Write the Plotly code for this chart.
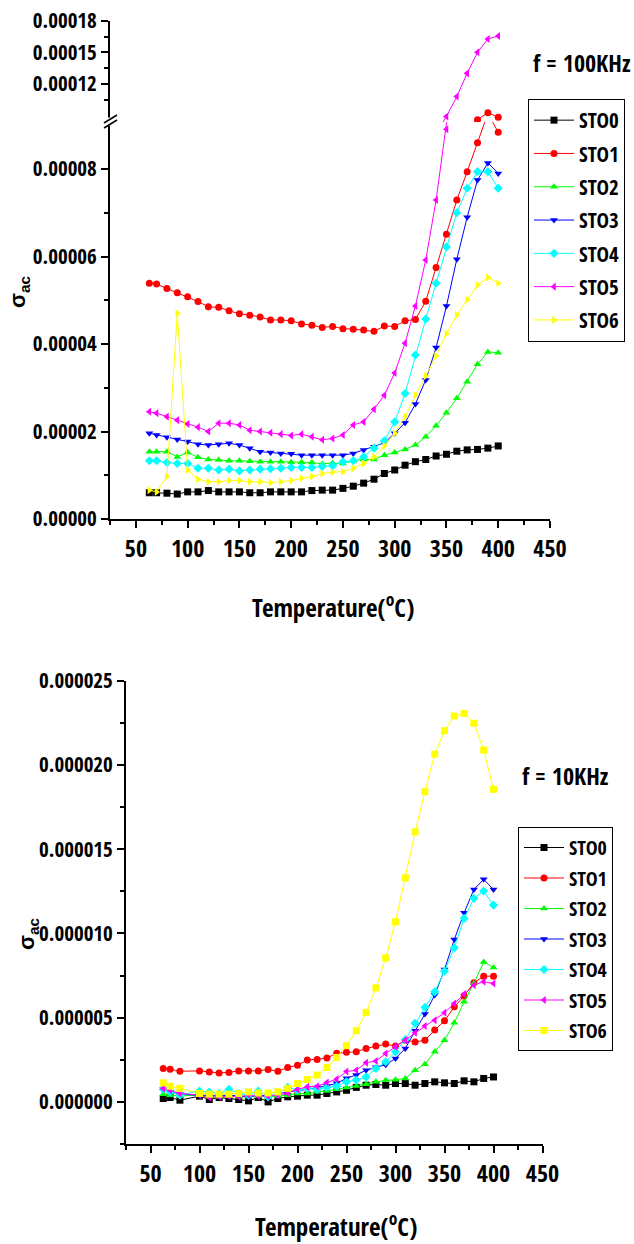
import plotly.graph_objects as go

# ---------------- data ----------------
names = ["STO0", "STO1", "STO2", "STO3", "STO4", "STO5", "STO6"]
colors = ["#000000", "#ff0000", "#00ff00", "#0000ff", "#00ffff", "#ff00ff", "#ffff00"]
symbols_100k = ["square", "circle", "triangle-up", "triangle-down", "diamond", "triangle-left", "triangle-right"]
symbols_10k = ["square", "circle", "triangle-up", "triangle-down", "diamond", "triangle-left", "square"]

# f = 100 kHz
temp_100k = [63, 70, 80, 90, 100, 110, 120, 130, 140, 150, 160, 170, 180, 190, 200, 210, 220, 230,
             240, 250, 260, 270, 280, 290, 300, 310, 320, 330, 340, 350, 360, 370, 380, 390, 400]
sto0_100k = [6.0, 6.0, 5.9, 5.7, 6.2, 6.2, 6.5, 6.2, 6.2, 6.2, 6.0, 6.0, 6.2, 6.2, 6.2, 6.2, 6.5, 6.6,
             6.6, 7.0, 7.5, 8.2, 9.1, 10.4, 11.2, 12.3, 13.1, 13.6, 14.4, 14.8, 15.5, 15.8, 15.9, 16.2, 16.7]
sto1_100k = [53.9, 53.7, 52.7, 51.7, 50.8, 49.7, 48.5, 48.4, 47.6, 46.9, 46.6, 46.2, 45.5, 45.5, 45.3, 44.6,
             44.3, 43.8, 44.0, 43.5, 43.4, 43.2, 42.9, 44.1, 44.0, 45.3, 45.6, 49.8, 57.5, 65.1, 72.9, 79.4,
             86.0, 92.7, 88.4]
sto2_100k = [15.4, 15.4, 15.4, 14.2, 15.2, 14.1, 13.6, 13.5, 13.3, 13.3, 13.2, 13.1, 13.1, 13.1, 13.0, 13.0,
             12.9, 12.6, 12.8, 12.7, 13.3, 13.6, 13.6, 14.6, 15.2, 15.9, 16.9, 18.8, 21.3, 24.3, 27.6, 31.4,
             35.4, 38.2, 38.0]
sto3_100k = [19.6, 19.2, 18.7, 18.2, 17.7, 17.1, 16.9, 17.1, 17.3, 16.9, 16.2, 15.4, 15.2, 15.0, 14.9, 14.6,
             14.6, 14.6, 14.6, 14.6, 15.0, 15.8, 16.5, 17.4, 19.6, 22.0, 26.3, 31.8, 39.2, 48.7, 59.4, 69.0,
             77.5, 81.4, 79.0]
sto4_100k = [13.3, 13.3, 12.9, 12.7, 12.7, 11.6, 11.6, 11.2, 11.4, 11.0, 11.2, 11.4, 11.5, 11.6, 11.8, 11.8,
             11.8, 12.0, 12.2, 13.1, 13.3, 14.2, 16.2, 17.9, 22.2, 28.7, 37.5, 45.7, 53.9, 62.2, 70.0, 75.6,
             79.4, 79.4, 75.6]
sto5_100k = [24.5, 24.2, 23.4, 22.6, 21.7, 21.0, 20.0, 21.9, 21.9, 21.5, 20.3, 20.0, 19.7, 19.4, 19.1, 19.4,
             18.8, 18.1, 18.4, 19.2, 21.5, 22.2, 25.1, 28.3, 33.4, 40.2, 48.7, 59.2, 72.9, 89.1, 108.0, 130.0,
             150.0, 162.6, 165.5]
sto6_100k = [6.6, 6.2, 9.7, 47.0, 11.2, 9.1, 8.5, 8.5, 8.8, 8.8, 8.5, 8.5, 8.3, 8.5, 8.8, 9.3, 9.7, 10.4,
             10.7, 10.8, 11.6, 12.7, 14.2, 16.7, 19.6, 23.4, 28.3, 32.7, 37.3, 42.4, 46.6, 50.1, 53.5, 55.2, 53.9]

# f = 10 kHz
temp_10k = [63, 70, 80, 100, 110, 120, 130, 140, 150, 160, 170, 180, 190, 200, 210, 220, 230, 240,
            250, 260, 270, 280, 290, 300, 310, 320, 330, 340, 350, 360, 370, 380, 390, 400]
sto0_10k = [0.20, 0.26, 0.10, 0.34, 0.14, 0.26, 0.20, 0.14, 0.06, 0.26, 0.0, 0.20, 0.30, 0.34, 0.40, 0.40,
            0.50, 0.59, 0.69, 0.86, 0.99, 1.03, 0.99, 1.09, 1.09, 0.99, 1.09, 1.19, 1.13, 1.09, 1.25, 1.19,
            1.39, 1.48]
sto1_10k = [1.98, 1.94, 1.82, 1.84, 1.78, 1.72, 1.75, 1.84, 1.84, 1.84, 1.92, 1.82, 2.04, 2.18, 2.48, 2.52,
            2.60, 2.89, 2.94, 2.97, 3.17, 3.31, 3.43, 3.31, 3.66, 3.56, 3.66, 4.26, 4.81, 5.64, 6.28, 7.07,
            7.46, 7.46]
sto2_10k = [0.45, 0.40, 0.35, 0.40, 0.30, 0.30, 0.35, 0.30, 0.30, 0.35, 0.30, 0.35, 0.40, 0.50, 0.50, 0.60,
            0.65, 0.75, 0.85, 0.95, 1.05, 1.19, 1.28, 1.31, 1.39, 1.88, 2.24, 2.97, 3.66, 4.69, 5.94, 7.03,
            8.31, 7.98]
sto3_10k = [0.75, 0.60, 0.45, 0.40, 0.35, 0.35, 0.40, 0.35, 0.30, 0.40, 0.35, 0.45, 0.60, 0.65, 0.75, 0.85,
            0.95, 1.10, 1.40, 1.60, 1.88, 2.05, 2.20, 2.58, 3.17, 4.22, 5.21, 6.34, 7.86, 9.64, 11.22, 12.61,
            13.21, 12.61]
sto4_10k = [0.74, 0.59, 0.40, 0.65, 0.59, 0.50, 0.74, 0.50, 0.40, 0.65, 0.30, 0.46, 0.86, 0.69, 0.80, 0.74,
            0.86, 0.93, 1.19, 1.30, 1.48, 1.98, 2.38, 2.97, 3.70, 4.66, 5.61, 6.53, 7.76, 9.15, 10.89, 12.08,
            12.51, 11.68]
sto5_10k = [0.80, 0.69, 0.50, 0.40, 0.26, 0.30, 0.34, 0.30, 0.40, 0.34, 0.34, 0.40, 0.53, 0.74, 0.89, 0.93,
            1.15, 1.35, 1.80, 1.88, 2.32, 2.43, 2.87, 3.27, 3.66, 4.10, 4.50, 4.85, 5.29, 5.84, 6.40, 6.93,
            7.13, 7.03]
sto6_10k = [1.13, 0.93, 0.80, 0.50, 0.46, 0.46, 0.46, 0.50, 0.59, 0.53, 0.53, 0.59, 0.80, 1.09, 1.33, 1.59,
            2.04, 2.64, 3.34, 4.22, 5.31, 6.77, 8.55, 10.69, 13.30, 16.03, 18.41, 20.63, 22.03, 22.90, 23.06,
            22.47, 20.88, 18.55]

series_100k = [sto0_100k, sto1_100k, sto2_100k, sto3_100k, sto4_100k, sto5_100k, sto6_100k]
series_10k = [sto0_10k, sto1_10k, sto2_10k, sto3_10k, sto4_10k, sto5_10k, sto6_10k]
SCALE = 1e-6  # values above are in units of 1e-6

x_ticks = [50, 100, 150, 200, 250, 300, 350, 400, 450]
x_minor = [25, 75, 125, 175, 225, 275, 325, 375, 425]
y_ticks_100k_low = [0, 0.00002, 0.00004, 0.00006, 0.00008]
y_minor_100k_low = [0.00001, 0.00003, 0.00005, 0.00007]
y_ticks_100k_high = [0.00012, 0.00015, 0.00018]
y_minor_100k_high = [0.000105, 0.000135, 0.000165]
y_ticks_10k = [0, 0.000005, 0.00001, 0.000015, 0.00002, 0.000025]
y_minor_10k = [-0.0000025, 0.0000025, 0.0000075, 0.0000125, 0.0000175, 0.0000225]

# ---------------- figure ----------------
W, H = 634, 1244
FONT = "Open Sans Condensed, Roboto Condensed, Liberation Sans Narrow, sans-serif"


def px(xp):
    return xp / W


def py(yp):
    return 1 - yp / H


fig = go.Figure()

for i in range(7):
    vals = [v * SCALE for v in series_100k[i]]
    common = dict(x=temp_100k, y=vals, mode="lines+markers", name=names[i],
                  line=dict(color=colors[i], width=1),
                  marker=dict(symbol=symbols_100k[i], size=7, color=colors[i]),
                  legendgroup="t%d" % i)
    fig.add_trace(go.Scatter(**common, xaxis="x", yaxis="y", legend="legend"))
    fig.add_trace(go.Scatter(**common, xaxis="x", yaxis="y2", showlegend=False))

for i in range(7):
    vals = [v * SCALE for v in series_10k[i]]
    fig.add_trace(go.Scatter(x=temp_10k, y=vals, mode="lines+markers", name=names[i],
                             line=dict(color=colors[i], width=1),
                             marker=dict(symbol=symbols_10k[i], size=7, color=colors[i]),
                             legendgroup="b%d" % i, xaxis="x2", yaxis="y3", legend="legend2"))

tickfont_y = dict(family=FONT, size=21, color="black", weight="bold")
tickfont_x = dict(family=FONT, size=24, color="black", weight="bold")
title_font = dict(family=FONT, size=25, color="black", weight="bold")
minor_common = dict(ticks="outside", ticklen=4, tickcolor="black", tickwidth=1.5)

axis_common = dict(showline=True, linecolor="black", linewidth=2, ticks="outside", ticklen=7,
                   tickwidth=1.5, tickcolor="black", showgrid=False, zeroline=False, mirror=False,
                   automargin=False)

# Top chart geometry (pixels)
top_x0, top_x1 = 110, 550
top_ybot, top_ybrk, top_ytop = 519, 122, 20.7
low_max = (top_ybot - top_ybrk) * (0.00002 / 87.5)
up_min = 0.00018 - (top_ybrk - top_ytop) * (0.00003 / 31.6)

bot_x0, bot_x1 = 126, 542.5
bot_ybot, bot_ytop = 1144, 680.7

fig.update_layout(
    width=W, height=H, margin=dict(l=0, r=0, t=0, b=0, autoexpand=False),
    paper_bgcolor="white", plot_bgcolor="rgba(0,0,0,0)",
    font=dict(family=FONT, color="black"),
    xaxis=dict(**axis_common, domain=[px(top_x0), px(top_x1)], range=[25, 450], anchor="y",
               tickmode="array", tickvals=x_ticks, tickfont=tickfont_x, ticklabelstandoff=0,
               minor=dict(tickmode="array", tickvals=x_minor, **minor_common)),
    yaxis=dict(**axis_common, domain=[py(top_ybot), py(top_ybrk)], range=[0, low_max], anchor="x",
               tickmode="array", tickvals=y_ticks_100k_low, tickformat=".5f", tickfont=tickfont_y,
               ticklabelstandoff=0,
               minor=dict(tickmode="array", tickvals=y_minor_100k_low, **minor_common)),
    yaxis2=dict(**axis_common, domain=[py(top_ybrk), py(top_ytop)], range=[up_min, 0.00018], anchor="x",
                tickmode="array", tickvals=y_ticks_100k_high, tickformat=".5f", tickfont=tickfont_y,
                ticklabelstandoff=0,
                minor=dict(tickmode="array", tickvals=y_minor_100k_high, **minor_common)),
    xaxis2=dict(**axis_common, domain=[px(bot_x0), px(bot_x1)], range=[25, 450], anchor="y3",
                tickmode="array", tickvals=x_ticks, tickfont=tickfont_x, ticklabelstandoff=0,
                minor=dict(tickmode="array", tickvals=x_minor, **minor_common)),
    yaxis3=dict(**axis_common, domain=[py(bot_ybot), py(bot_ytop)], range=[-0.0000025, 0.000025],
                anchor="x2", tickmode="array", tickvals=y_ticks_10k, tickformat=".6f", tickfont=tickfont_y,
                ticklabelstandoff=0,
                minor=dict(tickmode="array", tickvals=y_minor_10k, **minor_common)),
    legend=dict(x=px(528), y=py(99), xanchor="left", yanchor="top", bgcolor="white",
                bordercolor="black", borderwidth=1, traceorder="grouped", tracegroupgap=3,
                itemwidth=40, font=dict(family=FONT, size=21, weight="bold")),
    legend2=dict(x=px(518), y=py(827), xanchor="left", yanchor="top", bgcolor="white",
                 bordercolor="black", borderwidth=1, traceorder="grouped", tracegroupgap=1.5,
                 itemwidth=40, font=dict(family=FONT, size=20, weight="bold")),
)

ann = dict(xref="paper", yref="paper", showarrow=False, xanchor="center", yanchor="middle")

# axis titles and labels
fig.add_annotation(text="Temperature(<sup>o</sup>C)", x=px(333), y=py(605), font=title_font, **ann)
fig.add_annotation(text="Temperature(<sup>o</sup>C)", x=px(336), y=py(1224), font=title_font, **ann)
fig.add_annotation(text="f = 100KHz", x=px(582), y=py(62), font=dict(family=FONT, size=24, weight="bold"), **ann)
fig.add_annotation(text="f = 10KHz", x=px(565), y=py(775), font=dict(family=FONT, size=24, weight="bold"), **ann)
fig.add_annotation(text="σ<sub>ac</sub>", x=px(19), y=py(292), textangle=-90,
                   font=dict(family="Liberation Sans, Arial, sans-serif", size=22, weight="bold"), **ann)
fig.add_annotation(text="σ<sub>ac</sub>", x=px(28), y=py(934), textangle=-90,
                   font=dict(family="Liberation Sans, Arial, sans-serif", size=22, weight="bold"), **ann)

# axis break marks on the top chart
fig.add_shape(type="rect", xref="paper", yref="paper", x0=px(106), x1=px(114), y0=py(125.5), y1=py(117.5),
              fillcolor="white", line=dict(width=0), layer="above")
for dy in (0, 5):
    fig.add_shape(type="line", xref="paper", yref="paper", x0=px(104), y0=py(128 - dy), x1=px(117),
                  y1=py(120 - dy), line=dict(color="black", width=1.5), layer="above")

fig.write_html("out.html", config={"displayModeBar": False},
               post_script="document.body.style.margin='0';document.body.style.overflow='hidden';")
